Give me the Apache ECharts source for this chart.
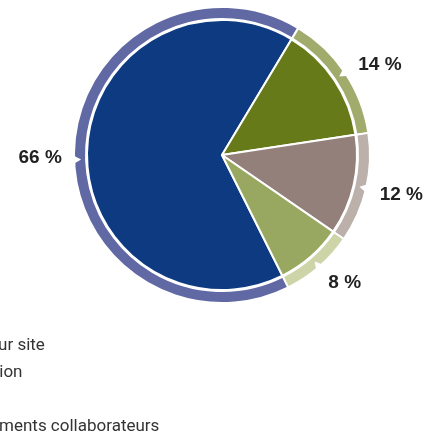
<!DOCTYPE html>
<html>
<head>
<meta charset="utf-8">
<script src="https://cdn.jsdelivr.net/npm/echarts@6/dist/echarts.min.js"></script>
<style>
  html, body { margin: 0; padding: 0; background: #fff; }
  #chart { width: 431px; height: 434px; }
</style>
</head>
<body>
<div id="chart"></div>
<script>
// Share of each item, in percent
const categories = ['Repas sur site', 'Impression', 'Autres', 'Déplacements collaborateurs'];
const shares = [66, 14, 12, 8];
const sliceColors = ['#0d3a81', '#667a19', '#94807a', '#99a861'];
const ringColors = ['#6169a5', '#a1ab6b', '#bbb0aa', '#ccd4a8'];

const CX = 222, CY = 155;
const START = 296.6; // first slice starts lower-right, drawn clockwise

// small hand nudges so the percentage labels line up with the ring notches
const labelNudge = [[2, 10], [5, 12], [0, -2], [2, -11]];
const notchShift = [4, 0, 0, 0]; // degrees

const chart = echarts.init(document.getElementById('chart'));

function pieData(colors) {
  return categories.map((name, i) => ({
    name: name,
    value: shares[i],
    itemStyle: { color: colors[i] }
  }));
}

// White notches cut into the outer ring, pointing at each label
function notches() {
  const total = shares.reduce((a, b) => a + b, 0);
  let acc = 0;
  const out = [];
  shares.forEach((v, i) => {
    const mid = START - (acc + v / 2) / total * 360 + notchShift[i];
    acc += v;
    const a = mid * Math.PI / 180;
    const ux = Math.cos(a), uy = -Math.sin(a);
    const px = -uy, py = ux;
    const rTip = 141, rBase = 150, half = 5;
    out.push({
      type: 'polygon',
      silent: true,
      z: 100,
      shape: {
        points: [
          [CX + ux * rTip, CY + uy * rTip],
          [CX + ux * rBase + px * half, CY + uy * rBase + py * half],
          [CX + ux * rBase - px * half, CY + uy * rBase - py * half]
        ]
      },
      style: { fill: '#ffffff' }
    });
  });
  return out;
}

chart.setOption({
  animation: false,
  legend: {
    orient: 'vertical',
    left: -82,
    top: 336,
    height: 120,
    padding: 0,
    itemWidth: 14,
    itemHeight: 14,
    itemGap: 7,
    selectedMode: false,
    data: categories,
    textStyle: { fontFamily: 'Roboto', fontSize: 17, color: '#333', lineHeight: 20 }
  },
  graphic: notches(),
  series: [
    {
      type: 'pie',
      center: [CX, CY],
      radius: [0, 135],
      startAngle: START,
      clockwise: true,
      silent: true,
      label: { show: false },
      labelLine: { show: false },
      itemStyle: { borderColor: '#fff', borderWidth: 2 },
      data: pieData(sliceColors)
    },
    {
      type: 'pie',
      center: [CX, CY],
      radius: [136, 148],
      startAngle: START,
      clockwise: true,
      silent: true,
      label: { show: false },
      labelLine: { show: false },
      itemStyle: { borderColor: '#fff', borderWidth: 2 },
      data: pieData(ringColors)
    },
    {
      type: 'pie',
      center: [CX, CY],
      radius: [168, 194],
      startAngle: START,
      clockwise: true,
      silent: true,
      legendHoverLink: false,
      itemStyle: { color: 'rgba(0,0,0,0)' },
      label: {
        show: true,
        position: 'inside',
        formatter: '{c} %',
        fontFamily: 'Liberation Sans',
        fontWeight: 'bold',
        fontSize: 19,
        color: '#222'
      },
      labelLine: { show: false },
      labelLayout: (p) => ({ dx: labelNudge[p.dataIndex][0], dy: labelNudge[p.dataIndex][1] }),
      data: categories.map((name, i) => ({ name: name, value: shares[i] }))
    }
  ]
});
</script>
</body>
</html>
